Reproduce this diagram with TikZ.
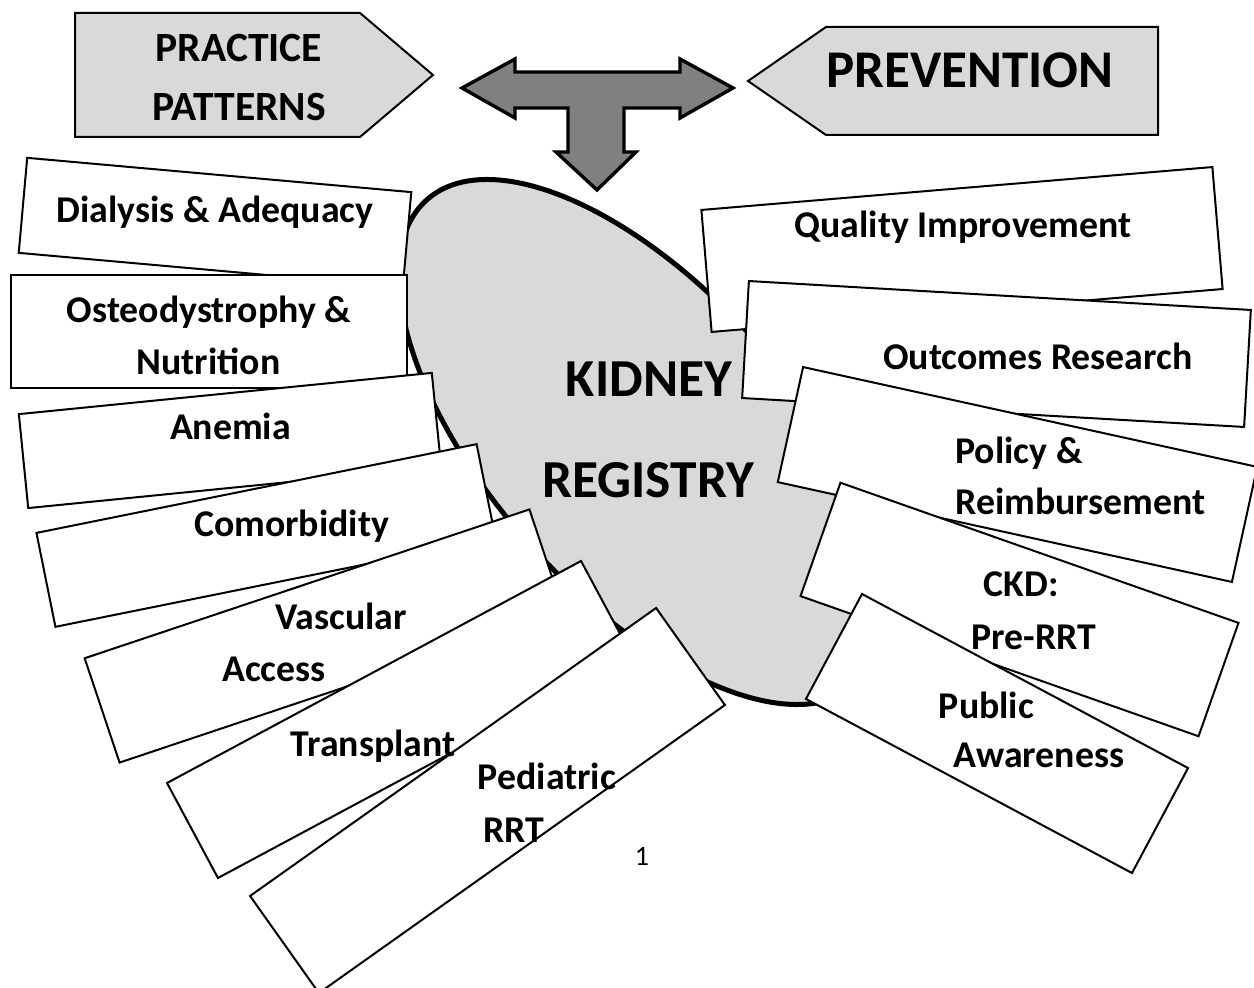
\documentclass[tikz,border=0pt]{standalone}
\usepackage{fontspec}
\setmainfont{Carlito}
\usetikzlibrary{shapes.geometric}
\definecolor{lightgrey}{HTML}{D9D9D9}
\definecolor{midgrey}{HTML}{808080}

\begin{document}
\begin{tikzpicture}[x=0.5pt,y=-0.5pt,
    card/.style = {draw, fill=white, line width=1pt, inner sep=0pt},
    tag/.style = {anchor=base, inner sep=0pt, font=\fontsize{18.9}{21}\selectfont\bfseries},
    head/.style = {anchor=base, inner sep=0pt, font=\fontsize{20.8}{23}\selectfont\bfseries},
    big/.style = {anchor=base, inner sep=0pt, font=\fontsize{26.7}{29}\selectfont\bfseries}]
    \useasboundingbox (0,0) rectangle (1254,988);
    \node[ellipse, draw, fill=lightgrey, line width=2.5pt, minimum width=324pt, minimum height=152pt, rotate=-48.4] (registry) at (642,442) {};
    \draw[fill=midgrey, line width=1.7pt, line join=miter]
        (462,88) -- (515,59) -- (515,72) -- (680,72) -- (680,59) -- (733,88) -- (680,118) -- (680,108)
        -- (624,108) -- (624,152) -- (636,152) -- (597,190) -- (556,152) -- (568,152) -- (568,108)
        -- (515,108) -- (515,118) -- cycle;
    \draw[fill=lightgrey, line width=1pt] (75,13) -- (360,13) -- (433,75) -- (360,137) -- (75,137) -- cycle;
    \draw[fill=lightgrey, line width=1pt] (1158,27) -- (826,27) -- (748,81) -- (826,135) -- (1158,135) -- cycle;

    \node[card, minimum width=192.8pt, minimum height=47.7pt, rotate=-5.1] (dialysis) at (215,222.5) {};
    \node[card, minimum width=198pt, minimum height=56.5pt] (osteo) at (209,331.5) {};
    \node[card, minimum width=207.5pt, minimum height=47.2pt, rotate=5.7] (anemia) at (230,440.5) {};
    \node[card, minimum width=224.5pt, minimum height=47.9pt, rotate=11.4] (comorb) at (266,535.5) {};
    \node[card, minimum width=234.5pt, minimum height=55pt, rotate=18.5] (vascular) at (324.5,636) {};
    \node[card, minimum width=234.9pt, minimum height=53.9pt, rotate=28.2] (transplant) at (399.5,719.5) {};
    \node[card, minimum width=248.9pt, minimum height=59.5pt, rotate=35.35] (pediatric) at (487.5,800.5) {};
    \node[card, minimum width=256.4pt, minimum height=61.2pt, rotate=4.8] (quality) at (962,249.5) {};
    \node[card, minimum width=251.4pt, minimum height=58.6pt, rotate=-3.3] (outcomes) at (996.5,354) {};
    \node[card, minimum width=232.5pt, minimum height=58.9pt, rotate=-12.4] (policy) at (1017.5,474.5) {};
    \node[card, minimum width=211pt, minimum height=60.1pt, rotate=-19.4] (ckd) at (1019.5,609.5) {};
    \node[card, minimum width=184.8pt, minimum height=59.5pt, rotate=-28.1] (public) at (997,733.5) {};

    \node[head] (practice-1) at (239,62) {PRACTICE};
    \node[head] (practice-2) at (239,121) {PATTERNS};
    \node[anchor=base, inner sep=0pt, font=\fontsize{26.5}{29}\selectfont\bfseries] (prevention) at (970,88) {PREVENTION};
    \node[big] (registry-1) at (649,397) {KIDNEY};
    \node[big] (registry-2) at (648,498) {REGISTRY};
    \node[tag] (dialysis-t) at (215,223) {Dialysis \& Adequacy};
    \node[tag] (osteo-1) at (209,323) {Osteodystrophy \&};
    \node[tag] (osteo-2) at (208.5,375) {Nutrition};
    \node[tag] (anemia-t) at (230.5,440) {Anemia};
    \node[tag] (comorb-t) at (291.5,537) {Comorbidity};
    \node[tag] (vascular-1) at (341,630) {Vascular};
    \node[tag] (vascular-2) at (274,682) {Access};
    \node[tag] (transplant-t) at (373,757) {Transplant};
    \node[tag] (pediatric-1) at (547,790) {Pediatric};
    \node[tag] (pediatric-2) at (514,842) {RRT};
    \node[tag] (quality-t) at (963,238) {Quality Improvement};
    \node[tag] (outcomes-t) at (1038,370) {Outcomes Research};
    \node[tag, anchor=base west] (policy-1) at (955,464) {Policy \&};
    \node[tag, anchor=base west] (policy-2) at (955,515) {Reimbursement};
    \node[tag] (ckd-1) at (1021,597) {CKD:};
    \node[tag] (ckd-2) at (1034,650) {Pre-RRT};
    \node[tag] (public-1) at (986.5,719) {Public};
    \node[tag] (public-2) at (1039,768) {Awareness};
    \node[anchor=base, inner sep=0pt, font=\fontsize{14}{16}\selectfont] (page) at (642,866) {1};
\end{tikzpicture}
\end{document}
